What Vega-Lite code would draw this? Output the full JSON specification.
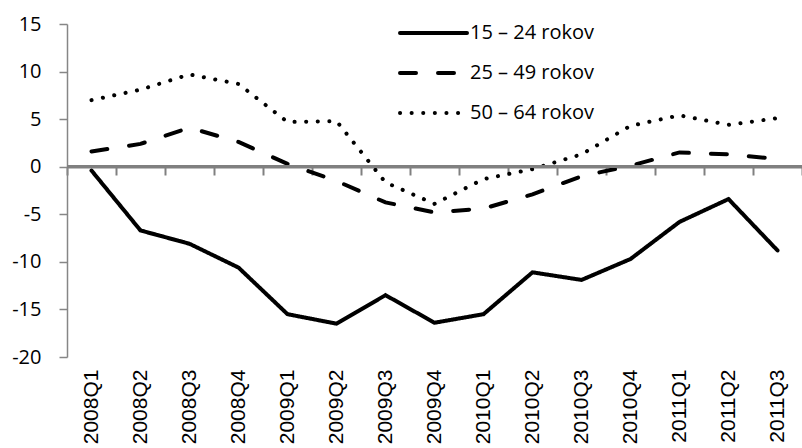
{
  "$schema": "https://vega.github.io/schema/vega-lite/v6.json",
  "width": 735,
  "height": 333,
  "autosize": {"type": "none"},
  "padding": {"left": 67, "top": 24, "right": 0, "bottom": 91},
  "config": {"view": {"stroke": null}, "font": "Open Sans"},
  "datasets": {
    "d": [
      {"q": "2008Q1", "g": "15 – 24 rokov", "v": -0.4},
      {"q": "2008Q2", "g": "15 – 24 rokov", "v": -6.7},
      {"q": "2008Q3", "g": "15 – 24 rokov", "v": -8.1},
      {"q": "2008Q4", "g": "15 – 24 rokov", "v": -10.6},
      {"q": "2009Q1", "g": "15 – 24 rokov", "v": -15.5},
      {"q": "2009Q2", "g": "15 – 24 rokov", "v": -16.5},
      {"q": "2009Q3", "g": "15 – 24 rokov", "v": -13.5},
      {"q": "2009Q4", "g": "15 – 24 rokov", "v": -16.4},
      {"q": "2010Q1", "g": "15 – 24 rokov", "v": -15.5},
      {"q": "2010Q2", "g": "15 – 24 rokov", "v": -11.1},
      {"q": "2010Q3", "g": "15 – 24 rokov", "v": -11.9},
      {"q": "2010Q4", "g": "15 – 24 rokov", "v": -9.7},
      {"q": "2011Q1", "g": "15 – 24 rokov", "v": -5.8},
      {"q": "2011Q2", "g": "15 – 24 rokov", "v": -3.4},
      {"q": "2011Q3", "g": "15 – 24 rokov", "v": -8.8},
      {"q": "2008Q1", "g": "25 – 49 rokov", "v": 1.6},
      {"q": "2008Q2", "g": "25 – 49 rokov", "v": 2.4},
      {"q": "2008Q3", "g": "25 – 49 rokov", "v": 4.1},
      {"q": "2008Q4", "g": "25 – 49 rokov", "v": 2.6},
      {"q": "2009Q1", "g": "25 – 49 rokov", "v": 0.3},
      {"q": "2009Q2", "g": "25 – 49 rokov", "v": -1.5},
      {"q": "2009Q3", "g": "25 – 49 rokov", "v": -3.75},
      {"q": "2009Q4", "g": "25 – 49 rokov", "v": -4.8},
      {"q": "2010Q1", "g": "25 – 49 rokov", "v": -4.4},
      {"q": "2010Q2", "g": "25 – 49 rokov", "v": -2.9},
      {"q": "2010Q3", "g": "25 – 49 rokov", "v": -1.0},
      {"q": "2010Q4", "g": "25 – 49 rokov", "v": 0.1},
      {"q": "2011Q1", "g": "25 – 49 rokov", "v": 1.5},
      {"q": "2011Q2", "g": "25 – 49 rokov", "v": 1.3},
      {"q": "2011Q3", "g": "25 – 49 rokov", "v": 0.8},
      {"q": "2008Q1", "g": "50 – 64 rokov", "v": 7.0},
      {"q": "2008Q2", "g": "50 – 64 rokov", "v": 8.1},
      {"q": "2008Q3", "g": "50 – 64 rokov", "v": 9.7},
      {"q": "2008Q4", "g": "50 – 64 rokov", "v": 8.7},
      {"q": "2009Q1", "g": "50 – 64 rokov", "v": 4.7},
      {"q": "2009Q2", "g": "50 – 64 rokov", "v": 4.8},
      {"q": "2009Q3", "g": "50 – 64 rokov", "v": -1.65},
      {"q": "2009Q4", "g": "50 – 64 rokov", "v": -3.9},
      {"q": "2010Q1", "g": "50 – 64 rokov", "v": -1.3},
      {"q": "2010Q2", "g": "50 – 64 rokov", "v": -0.25},
      {"q": "2010Q3", "g": "50 – 64 rokov", "v": 1.3},
      {"q": "2010Q4", "g": "50 – 64 rokov", "v": 4.3},
      {"q": "2011Q1", "g": "50 – 64 rokov", "v": 5.4},
      {"q": "2011Q2", "g": "50 – 64 rokov", "v": 4.4},
      {"q": "2011Q3", "g": "50 – 64 rokov", "v": 5.1}
    ]
  },
  "data": {"name": "d"},
  "layer": [
    {
      "mark": {"type": "line", "strokeWidth": 4, "strokeCap": "round", "color": "black"},
      "encoding": {
        "x": {
          "field": "q", "type": "ordinal", "bandPosition": 0.5,
          "scale": {"type": "band", "paddingInner": 0, "paddingOuter": 0},
          "axis": {
            "orient": "bottom", "offset": -190, "title": null,
            "tickBand": "extent", "tickSize": 8, "tickColor": "#808080", "tickWidth": 2,
            "domain": true, "domainColor": "#808080", "domainWidth": 2,
            "labelAngle": 270, "labelFontSize": 21, "labelColor": "black", "labelPadding": 194,
            "labelFont": "Liberation Sans"
          }
        },
        "y": {
          "field": "v", "type": "quantitative",
          "scale": {"domain": [-20, 15], "nice": false, "zero": false},
          "axis": {
            "title": null, "values": [-20, -15, -10, -5, 0, 5, 10, 15], "grid": false,
            "tickSize": 8, "tickColor": "#868686", "tickWidth": 1.5, "domainColor": "#868686", "domainWidth": 1.5,
            "labelFontSize": 20, "labelColor": "black", "labelPadding": 18, "labelFont": "Open Sans",
            "labelExpr": "replace(datum.label, '−', '-')"
          }
        },
        "strokeDash": {
          "field": "g", "type": "nominal",
          "scale": {"domain": ["15 – 24 rokov", "25 – 49 rokov", "50 – 64 rokov"], "range": [[1, 0], [16, 22], [0.1, 11.5]]},
          "legend": {
            "title": null, "orient": "none", "legendX": 331, "legendY": -1,
            "symbolType": "stroke", "symbolSize": 4489, "symbolStrokeWidth": 4, "symbolStrokeColor": "black",
            "clipHeight": 20,
            "labelFontSize": 20, "labelColor": "black", "labelFont": "Open Sans", "rowPadding": 20, "labelOffset": 1,
            "encode": {"symbols": {"update": {"strokeCap": {"value": "round"}}}}
          }
        },
        "detail": {"field": "g"}
      }
    },
    {
      "mark": {"type": "rule", "color": "#808080", "strokeWidth": 2},
      "encoding": {"y": {"datum": 0, "type": "quantitative"}}
    }
  ]
}
